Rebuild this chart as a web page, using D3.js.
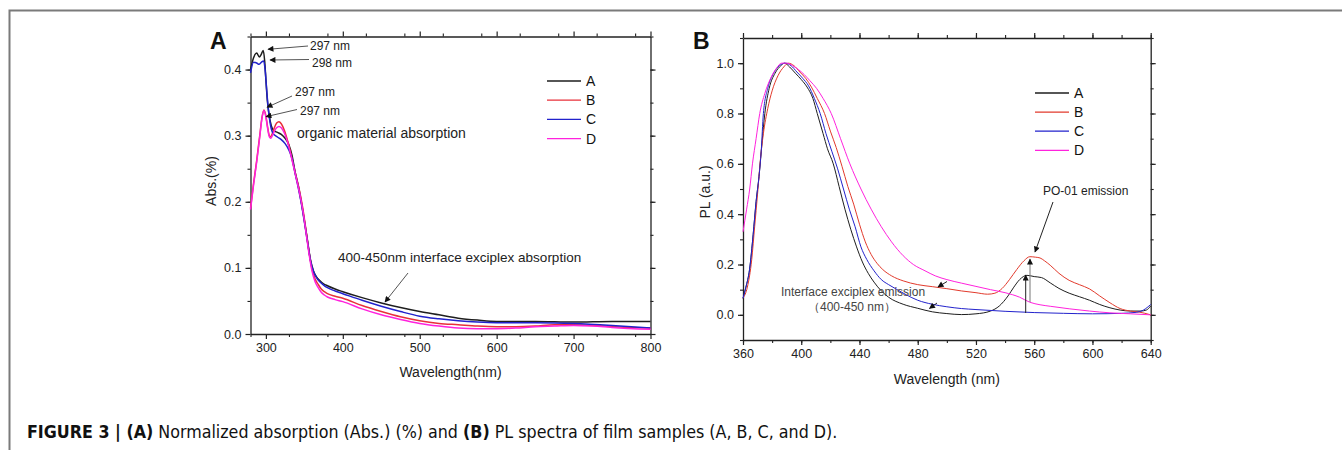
<!DOCTYPE html>
<html>
<head>
<meta charset="utf-8">
<script src="https://cdn.jsdelivr.net/npm/d3@7"></script>
<style>
  body { margin: 0; background: #fff; }
  svg { display: block; font-family: "Liberation Sans", Arial, sans-serif; }
</style>
</head>
<body>
<svg id="fig" width="1342" height="450"></svg>
<script>
// panel A: absorption, [wavelength nm, Abs]
const absA = [[280,0.400],[284,0.418],[288,0.425],[291.5,0.419],[294,0.423],[296.5,0.429],[298.5,0.412],[300,0.385],[302,0.352],[304,0.333],[307,0.315],[310,0.308],[315,0.305],[320,0.302],[325,0.296],[330,0.286],[334,0.27],[338,0.245],[342,0.225],[346,0.200],[350,0.172],[354,0.142],[358,0.112],[362,0.095],[366,0.086],[370,0.081],[375,0.076],[380,0.073],[390,0.068],[400,0.064],[425,0.055],[450,0.047],[475,0.040],[500,0.034],[525,0.029],[550,0.024],[575,0.021],[600,0.019],[650,0.019],[700,0.018],[750,0.019],[800,0.019]];
const absB = [[280,0.19],[284,0.228],[288,0.262],[292,0.300],[295,0.328],[297.5,0.339],[300,0.330],[302,0.315],[304,0.302],[306,0.298],[308,0.302],[311,0.312],[314,0.319],[317,0.321],[320,0.318],[324,0.308],[328,0.293],[332,0.275],[336,0.255],[340,0.235],[344,0.215],[348,0.19],[352,0.158],[356,0.125],[360,0.098],[364,0.083],[368,0.075],[372,0.068],[376,0.064],[380,0.061],[390,0.057],[400,0.054],[425,0.043],[450,0.034],[475,0.026],[500,0.020],[525,0.016],[550,0.014],[575,0.012],[600,0.011],[625,0.011],[650,0.012],[675,0.014],[700,0.014],[725,0.013],[750,0.011],[800,0.009]];
const absC = [[280,0.395],[284,0.411],[288,0.410],[291,0.408],[294,0.411],[297,0.413],[299,0.400],[301,0.370],[303,0.342],[306,0.316],[309,0.304],[315,0.298],[320,0.294],[325,0.288],[330,0.278],[334,0.265],[338,0.243],[342,0.222],[346,0.198],[350,0.17],[354,0.14],[358,0.111],[362,0.094],[366,0.085],[370,0.079],[375,0.074],[380,0.070],[390,0.065],[400,0.061],[425,0.051],[450,0.042],[475,0.034],[500,0.027],[525,0.023],[550,0.020],[575,0.018],[600,0.017],[650,0.017],[700,0.016],[750,0.013],[800,0.009]];
const absD = [[280,0.188],[284,0.226],[288,0.26],[292,0.298],[295,0.327],[297.5,0.338],[300,0.328],[302,0.313],[304,0.300],[306,0.296],[308,0.299],[311,0.307],[314,0.312],[317,0.314],[320,0.312],[324,0.304],[328,0.291],[332,0.273],[336,0.253],[340,0.233],[344,0.212],[348,0.187],[352,0.155],[356,0.122],[360,0.095],[364,0.079],[368,0.070],[372,0.063],[376,0.059],[380,0.056],[390,0.052],[400,0.049],[425,0.038],[450,0.029],[475,0.022],[500,0.016],[525,0.012],[550,0.009],[575,0.008],[600,0.008],[625,0.009],[650,0.011],[675,0.012],[700,0.013],[725,0.012],[750,0.010],[800,0.007]];

// panel B: PL, [wavelength nm, PL]
const plA = [[360,0.066],[362,0.11],[364.5,0.18],[367,0.32],[369,0.45],[371,0.55],[373,0.68],[375,0.80],[378,0.90],[382,0.96],[386,0.99],[388.5,1.0],[392,0.985],[396,0.96],[400,0.935],[404,0.905],[408,0.86],[411,0.80],[415,0.72],[418,0.66],[422,0.6],[426,0.51],[430,0.42],[434,0.34],[438,0.27],[442,0.21],[446,0.165],[450,0.13],[455,0.095],[460,0.07],[470,0.042],[480,0.026],[490,0.012],[500,0.005],[510,0.001],[520,0.004],[530,0.015],[536,0.035],[542,0.075],[546,0.11],[550,0.14],[555,0.157],[560,0.152],[565,0.148],[571,0.127],[577,0.105],[584,0.086],[591,0.072],[598,0.058],[605,0.041],[612,0.028],[619,0.019],[626,0.015],[633,0.015],[637,0.019],[640,0.035]];
const plB = [[360,0.066],[363,0.11],[366,0.22],[368,0.35],[370,0.48],[372,0.62],[374,0.72],[377,0.82],[380,0.89],[384,0.95],[388,0.985],[391,1.0],[395,0.99],[399,0.965],[403,0.94],[407,0.905],[411,0.86],[416,0.80],[420,0.73],[424,0.665],[428,0.59],[432,0.51],[436,0.44],[440,0.36],[444,0.29],[448,0.24],[452,0.205],[456,0.18],[462,0.155],[470,0.135],[480,0.12],[490,0.112],[500,0.104],[510,0.095],[520,0.088],[528,0.082],[533,0.086],[538,0.105],[543,0.14],[548,0.18],[553,0.215],[557,0.231],[561,0.229],[564,0.226],[567,0.215],[571,0.197],[577,0.165],[584,0.137],[591,0.12],[598,0.103],[605,0.075],[612,0.048],[619,0.025],[626,0.015],[632,0.011],[640,0.0]];
const plC = [[360,0.066],[362,0.11],[364.5,0.18],[367,0.32],[369,0.45],[371,0.55],[372.5,0.65],[374,0.80],[377,0.90],[381,0.96],[385,0.99],[389,1.0],[393,0.99],[397,0.965],[401,0.94],[405,0.91],[409,0.86],[413,0.80],[417,0.72],[421,0.65],[425,0.58],[429,0.50],[433,0.42],[437,0.35],[441,0.27],[445,0.22],[450,0.175],[455,0.14],[460,0.12],[466,0.1],[472,0.08],[480,0.058],[490,0.042],[500,0.032],[510,0.025],[520,0.021],[540,0.014],[560,0.009],[580,0.006],[600,0.004],[620,0.006],[630,0.01],[635,0.019],[640,0.041]];
const plD = [[360,0.33],[362.5,0.42],[364.6,0.50],[366.5,0.6],[369,0.7],[371.5,0.8],[375,0.88],[379,0.94],[383,0.98],[386.5,1.0],[390,1.0],[394,0.99],[398,0.975],[402,0.955],[406,0.93],[410.5,0.9],[415,0.86],[420.6,0.8],[427,0.70],[433.4,0.6],[441,0.5],[448,0.42],[455,0.35],[462,0.29],[470,0.235],[477,0.2],[485,0.175],[492,0.155],[500,0.14],[510,0.126],[520,0.113],[530,0.1],[540,0.088],[550,0.07],[557,0.05],[564,0.04],[571,0.034],[584,0.024],[598,0.015],[612,0.008],[626,0.004],[640,0.0]];

const seriesNames = ["A", "B", "C", "D"];
const absColors = ["#1e1e1e", "#e8303a", "#2222cc", "#ff22dd"];
const plColors = ["#1e1e1e", "#e23a2c", "#2222cc", "#ff22dd"];
const absTicksX = [300, 400, 500, 600, 700, 800];
const absTicksY = [0.0, 0.1, 0.2, 0.3, 0.4];
const plTicksX = [360, 400, 440, 480, 520, 560, 600, 640];
const plTicksY = [0.0, 0.2, 0.4, 0.6, 0.8, 1.0];

const svg = d3.select("#fig");
const defs = svg.append("defs");
defs.append("marker").attr("id", "head")
  .attr("viewBox", "0 0 10 10").attr("refX", 9).attr("refY", 5)
  .attr("markerWidth", 7).attr("markerHeight", 6).attr("orient", "auto")
  .attr("markerUnits", "userSpaceOnUse")
  .append("path").attr("d", "M0,0 L10,5 L0,10 z").attr("fill", "#111");

// outer frame
svg.append("path").attr("d", "M9.5,450 V10.5 H1342")
  .attr("fill", "none").attr("stroke", "#7a7a7a").attr("stroke-width", 2);

function panel(opt) {
  const g = svg.append("g");
  const x = d3.scaleLinear().domain(opt.xDomain).range([opt.left, opt.right]);
  const y = d3.scaleLinear().domain(opt.yDomain).range([opt.bottom, opt.top]);

  const minorX = d3.range(opt.xDomain[0], opt.xDomain[1] + 0.001, opt.xMinor).filter(v => v >= opt.xDomain[0]);
  const minorY = d3.range(opt.yMinorStart, opt.yDomain[1] + 0.001, opt.yMinor);

  const axes = [
    [d3.axisBottom(x).tickValues(opt.xTicks).tickFormat(d => d), `translate(0,${opt.bottom})`],
    [d3.axisTop(x).tickValues(opt.xTicks).tickFormat(""), `translate(0,${opt.top})`],
    [d3.axisLeft(y).tickValues(opt.yTicks).tickFormat(d3.format(".1f")), `translate(${opt.left},0)`],
    [d3.axisRight(y).tickValues(opt.yTicks).tickFormat(""), `translate(${opt.right},0)`]
  ];
  axes.forEach(([ax, tr]) => {
    const a = g.append("g").attr("transform", tr)
      .call(ax.tickSize(5).tickSizeOuter(0).tickPadding(4));
    a.attr("font-family", null).attr("font-size", null);
    a.select(".domain").attr("stroke", "#222").attr("stroke-width", 1.3);
    a.selectAll(".tick line").attr("stroke", "#222").attr("stroke-width", 1.2);
    a.selectAll("text").attr("fill", "#222").style("font-size", "12.5px");
  });
  // minor ticks
  const minorAxes = [
    [d3.axisBottom(x).tickValues(minorX), `translate(0,${opt.bottom})`],
    [d3.axisTop(x).tickValues(minorX), `translate(0,${opt.top})`],
    [d3.axisLeft(y).tickValues(minorY), `translate(${opt.left},0)`],
    [d3.axisRight(y).tickValues(minorY), `translate(${opt.right},0)`]
  ];
  minorAxes.forEach(([ax, tr]) => {
    const a = g.append("g").attr("transform", tr)
      .call(ax.tickSize(3).tickSizeOuter(0).tickFormat(""));
    a.select(".domain").remove();
    a.selectAll(".tick line").attr("stroke", "#222").attr("stroke-width", 1.1);
  });

  const line = d3.line().x(d => x(d[0])).y(d => y(d[1])).curve(d3.curveMonotoneX);
  opt.series.forEach((s, i) => {
    g.append("path").datum(s).attr("d", line)
      .attr("fill", "none").attr("stroke", opt.colors[i]).attr("stroke-width", opt.lw);
  });

  // legend
  seriesNames.forEach((n, i) => {
    const ly = opt.legY + i * opt.legStep;
    g.append("line").attr("x1", opt.legX).attr("x2", opt.legX + 34)
      .attr("y1", ly).attr("y2", ly).attr("stroke", opt.colors[i]).attr("stroke-width", 1.3);
    g.append("text").attr("x", opt.legX + 39).attr("y", ly + 5)
      .attr("fill", "#111").style("font-size", "14px").text(n);
  });

  // panel letter
  g.append("text").attr("x", opt.letterX).attr("y", 49)
    .style("font-size", "23px").style("font-weight", "bold").attr("fill", "#111").text(opt.letter);
  // axis titles
  g.append("text").attr("x", (opt.left + opt.right) / 2).attr("y", opt.xTitleY)
    .attr("text-anchor", "middle").style("font-size", "14px").attr("fill", "#222").text(opt.xTitle);
  g.append("text").attr("transform", `translate(${opt.yTitleX},${opt.yTitleY}) rotate(-90)`)
    .attr("text-anchor", "middle").style("font-size", "14px").attr("fill", "#222").text(opt.yTitle);
  return { g, x, y };
}

const pA = panel({
  xDomain: [280, 800], yDomain: [0, 0.45], left: 250.5, right: 650.5, top: 36.5, bottom: 334,
  xTicks: absTicksX, yTicks: absTicksY, xMinor: 50, yMinor: 0.05, yMinorStart: 0.05,
  series: [absA, absB, absC, absD], colors: absColors, lw: 1.5,
  legX: 547, legY: 81, legStep: 19.2,
  letter: "A", letterX: 210, xTitle: "Wavelength(nm)", xTitleY: 377,
  yTitle: "Abs.(%)", yTitleX: 216, yTitleY: 181
});
const pB = panel({
  xDomain: [360, 640], yDomain: [-0.1, 1.1], left: 743, right: 1150.7, top: 38, bottom: 340,
  xTicks: plTicksX, yTicks: plTicksY, xMinor: 20, yMinor: 0.1, yMinorStart: -0.1,
  series: [plA, plB, plC, plD], colors: plColors, lw: 1.0,
  legX: 1035, legY: 93, legStep: 19.1,
  letter: "B", letterX: 693, xTitle: "Wavelength (nm)", xTitleY: 384,
  yTitle: "PL (a.u.)", yTitleX: 710, yTitleY: 192
});

// annotations
function arrow(g, x1, y1, x2, y2, color) {
  g.append("line").attr("x1", x1).attr("y1", y1).attr("x2", x2).attr("y2", y2)
    .attr("stroke", color || "#555").attr("stroke-width", 1).attr("marker-end", "url(#head)");
}
function label(g, x, y, t, size, color) {
  g.append("text").attr("x", x).attr("y", y).style("font-size", size + "px")
    .attr("fill", color || "#222").text(t);
}
const gA = pA.g;
label(gA, 310, 50, "297 nm", 12);
arrow(gA, 308, 46, 268, 49.3);
label(gA, 312, 67, "298 nm", 12);
arrow(gA, 309, 59.5, 270, 60);
label(gA, 295, 96, "297 nm", 12);
arrow(gA, 292, 96, 267, 107.3);
label(gA, 300, 115, "297 nm", 12);
arrow(gA, 297, 109.5, 266, 116.7);
label(gA, 297, 138, "organic material absorption", 14);
label(gA, 338, 262, "400-450nm interface exciplex absorption", 13.5);
arrow(gA, 408, 273, 385, 302);

const gB = pB.g;
label(gB, 1043, 195, "PO-01 emission", 12);
arrow(gB, 1053, 202, 1035, 252, "#222");
arrow(gB, 1025.7, 313, 1025.7, 275, "#222");
arrow(gB, 1030, 302, 1030, 259, "#777");
label(gB, 781, 296, "Interface exciplex emission", 12, "#444");
label(gB, 808, 311, "（400-450 nm）", 12, "#444");
arrow(gB, 947, 281.5, 938, 287, "#222");
arrow(gB, 937, 303, 929.5, 308.5, "#222");

// caption
const cap = svg.append("text").attr("x", 27).attr("y", 438)
  .style("font-family", "'DejaVu Sans Condensed', 'Liberation Sans', sans-serif")
  .style("font-size", "17.7px").attr("fill", "#111");
cap.append("tspan").style("font-weight", "bold").text("FIGURE 3 | (A)");
cap.append("tspan").text(" Normalized absorption (Abs.) (%) and ");
cap.append("tspan").style("font-weight", "bold").text("(B)");
cap.append("tspan").text(" PL spectra of film samples (A, B, C, and D).");
</script>
</body>
</html>
